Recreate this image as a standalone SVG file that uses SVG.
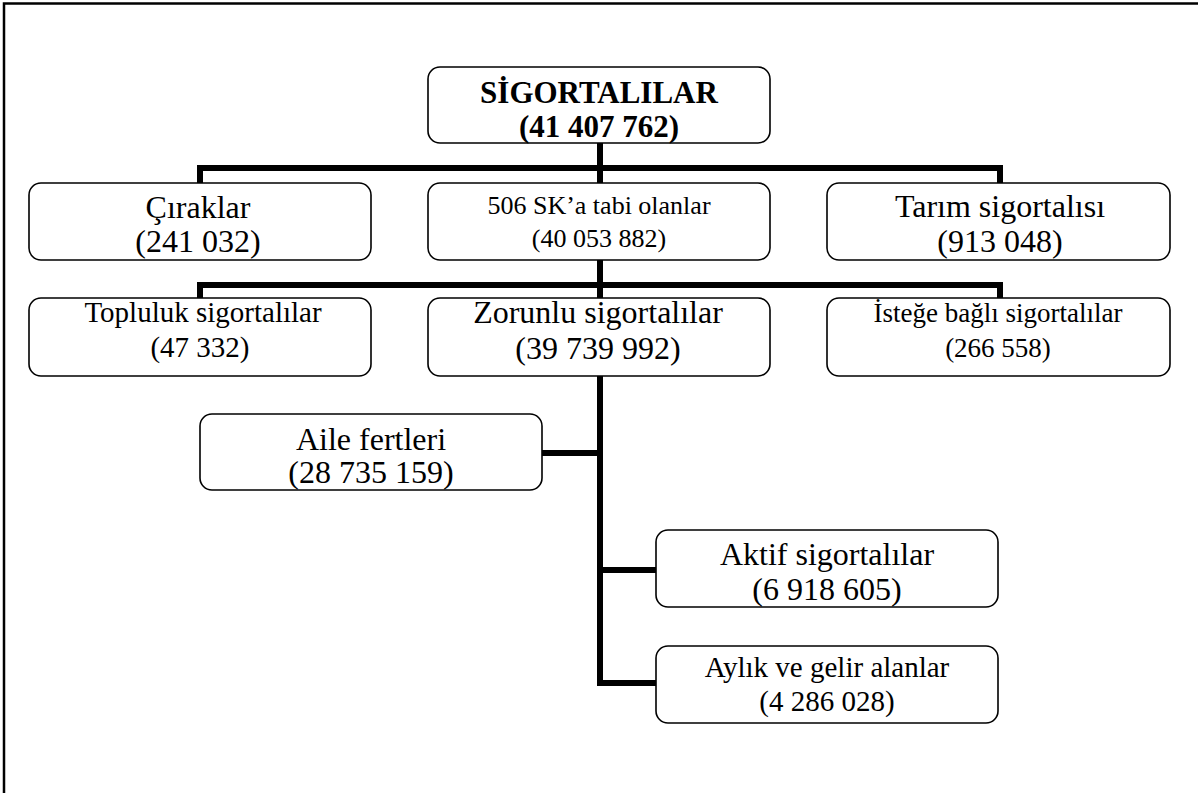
<svg xmlns="http://www.w3.org/2000/svg" width="1198" height="793" viewBox="0 0 1198 793">
<style>
.box{fill:#fff;stroke:#000;stroke-width:1.6}
.t{font-family:"Liberation Serif","Times New Roman",serif;fill:#000;text-anchor:middle}
.b{font-weight:bold;font-size:31px}
.s32{font-size:32px}
.s29{font-size:29px}
.s27{font-size:27px}
.s26{font-size:26px}
.c{fill:none;stroke:#000;stroke-width:6;stroke-linejoin:miter;stroke-linecap:butt}
</style>
<rect width="1198" height="793" fill="#fff"/>
<path d="M4,793 V3.5 H1198" fill="none" stroke="#000" stroke-width="2.5"/>
<g id="connectors">
<path class="c" d="M600,143 V183"/>
<path class="c" d="M200,183 V168 H1000 V183"/>
<path class="c" d="M600,260 V298"/>
<path class="c" d="M200,298 V285 H1000 V298"/>
<path class="c" d="M600,376 V683 H656"/>
<path class="c" d="M542,453 H600"/>
<path class="c" d="M600,570 H656"/>
</g>
<g id="root">
<rect class="box" x="428" y="67" width="342" height="76" rx="12"/>
<text class="t b" x="599" y="103">SİGORTALILAR</text>
<text class="t b" x="599" y="137">(41 407 762)</text>
</g>
<g id="ciraklar">
<rect class="box" x="29" y="183" width="342" height="77" rx="12"/>
<text class="t s32" x="198" y="218">Çıraklar</text>
<text class="t s32" x="198" y="252">(241 032)</text>
</g>
<g id="sk506">
<rect class="box" x="428" y="183" width="342" height="77" rx="12"/>
<text class="t s26" x="599" y="214">506 SK’a tabi olanlar</text>
<text class="t s26" x="599" y="247">(40 053 882)</text>
</g>
<g id="tarim">
<rect class="box" x="827" y="183" width="343" height="77" rx="12"/>
<text class="t s32" x="1000" y="217">Tarım sigortalısı</text>
<text class="t s32" x="1000" y="252">(913 048)</text>
</g>
<g id="topluluk">
<rect class="box" x="29" y="298" width="342" height="78" rx="12"/>
<text class="t s29" x="203" y="322">Topluluk sigortalılar</text>
<text class="t s29" x="200" y="357">(47 332)</text>
</g>
<g id="zorunlu">
<rect class="box" x="428" y="298" width="342" height="78" rx="12"/>
<text class="t s32" x="598" y="323">Zorunlu sigortalılar</text>
<text class="t s32" x="598" y="359">(39 739 992)</text>
</g>
<g id="istege">
<rect class="box" x="827" y="298" width="343" height="78" rx="12"/>
<text class="t s27" x="998" y="322">İsteğe bağlı sigortalılar</text>
<text class="t s27" x="998" y="357">(266 558)</text>
</g>
<g id="aile">
<rect class="box" x="200" y="414" width="342" height="76" rx="12"/>
<text class="t s32" x="371" y="450">Aile fertleri</text>
<text class="t s32" x="371" y="483">(28 735 159)</text>
</g>
<g id="aktif">
<rect class="box" x="656" y="530" width="342" height="77" rx="12"/>
<text class="t s32" x="827" y="565">Aktif sigortalılar</text>
<text class="t s32" x="827" y="600">(6 918 605)</text>
</g>
<g id="aylik">
<rect class="box" x="656" y="646" width="342" height="77" rx="12"/>
<text class="t s29" x="827" y="677">Aylık ve gelir alanlar</text>
<text class="t s29" x="827" y="711">(4 286 028)</text>
</g>
</svg>
